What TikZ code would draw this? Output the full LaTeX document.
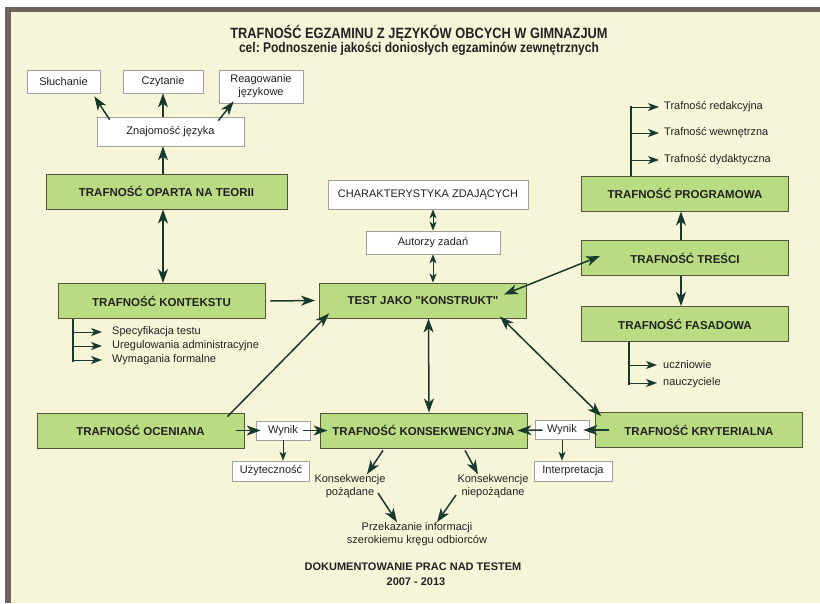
\documentclass[tikz,border=0pt]{standalone}
\usepackage{fontspec}
\setmainfont{Liberation Sans}
\newfontfamily\rawfont{Liberation Sans}
\newfontfamily\narrowfont[FakeStretch=0.86]{Liberation Sans}
\usetikzlibrary{arrows.meta}
\frenchspacing

\definecolor{paper}{HTML}{F7F5D8}
\definecolor{framebrown}{HTML}{6E625C}
\definecolor{boxgreen}{HTML}{B9DC82}
\definecolor{boxedge}{HTML}{55553F}
\definecolor{arrowdark}{HTML}{173A2C}
\definecolor{greyedge}{HTML}{A0A0A0}
\definecolor{inkdark}{HTML}{222222}

\tikzset{
  mainbox/.style={draw=boxedge, fill=boxgreen, line width=0.9pt, minimum width=207pt,
    minimum height=35pt, inner sep=0pt, text=inkdark, font=\bfseries\fontsize{11.5}{13}\selectfont},
  whitebox/.style={draw=greyedge, fill=white, line width=0.7pt, inner sep=0pt, align=center,
    text=inkdark, font=\fontsize{11}{13}\selectfont},
  freetext/.style={inner sep=0pt, align=center, text=inkdark, font=\fontsize{11}{13}\selectfont},
  bigarrow/.style={draw=arrowdark, line width=1.5pt, -{Stealth[length=14pt, width=10pt, inset=4pt]}},
  bothbig/.style={bigarrow, {Stealth[length=14pt, width=10pt, inset=4pt]}-{Stealth[length=14pt, width=10pt, inset=4pt]}},
  smallarrow/.style={draw=arrowdark, line width=1pt, -{Stealth[length=9pt, width=7pt, inset=2.5pt]}},
  bothsmall/.style={smallarrow, {Stealth[length=9pt, width=7pt, inset=2.5pt]}-{Stealth[length=9pt, width=7pt, inset=2.5pt]}},
  listbar/.style={draw=arrowdark, line width=2.6pt},
  listarrow/.style={draw=arrowdark, line width=1pt, -{Stealth[length=11pt, width=8pt, inset=3pt]}}
}

\begin{document}
\begin{tikzpicture}[x=1pt, y=-1pt]
    % Sheet and frame
    \fill[white] (0,0) rectangle (820,603);
    \fill[framebrown] (5,7) rectangle (820,603);
    \fill[paper] (11,12) rectangle (820,603);
    \useasboundingbox (0,0) rectangle (820,603);

    % Title
    \node[text=inkdark, font=\narrowfont\bfseries\fontsize{14.9}{16}\selectfont] (title) at (419,33) {TRAFNOŚĆ EGZAMINU Z JĘZYKÓW OBCYCH W GIMNAZJUM};
    \node[text=inkdark, font=\narrowfont\bfseries\fontsize{14}{16}\selectfont] (goal) at (419,48.5) {cel: Podnoszenie jakości doniosłych egzaminów zewnętrznych};

    % Theory branch
    \node[whitebox, minimum width=73pt, minimum height=23pt] (sluch) at (63.5,81.5) {Słuchanie};
    \node[whitebox, minimum width=80pt, minimum height=23pt] (czyt) at (163,81.5) {Czytanie};
    \node[whitebox, minimum width=84pt, minimum height=33pt] (reag) at (261,86.5) {Reagowanie\\językowe};
    \node[whitebox, minimum width=147pt, minimum height=29pt] (znaj) at (170.5,131.5) {Znajomość języka};
    \node[mainbox, minimum width=241pt] (teoria) at (166.5,191.5) {TRAFNOŚĆ OPARTA NA TEORII};
    \node[mainbox] (kontekst) at (161.5,301) {TRAFNOŚĆ KONTEKSTU};

    % Context list
    \coordinate (kbar) at (73,362);
    \node[freetext, anchor=west] (spec) at (112,332) {Specyfikacja testu};
    \node[freetext, anchor=west] (uregul) at (112,346) {Uregulowania administracyjne};
    \node[freetext, anchor=west] (wymag) at (112,360) {Wymagania formalne};

    % Centre
    \node[whitebox, minimum width=200pt, minimum height=29pt] (zdaj) at (428,194.5) {CHARAKTERYSTYKA ZDAJĄCYCH};
    \node[whitebox, minimum width=134pt, minimum height=23pt] (autorzy) at (433,242.5) {Autorzy zadań};
    \node[mainbox] (test) at (423,300.5) {\rawfont TEST JAKO "KONSTRUKT"};

    % Content branch
    \node[mainbox] (program) at (685,193.5) {TRAFNOŚĆ PROGRAMOWA};
    \node[mainbox] (tresc) at (685,258) {TRAFNOŚĆ TREŚCI};
    \node[mainbox] (fasad) at (685,324) {TRAFNOŚĆ FASADOWA};
    \coordinate (pbar) at (631,106);
    \node[freetext, anchor=west] (redak) at (664,107) {Trafność redakcyjna};
    \node[freetext, anchor=west] (wewn) at (664,133) {Trafność wewnętrzna};
    \node[freetext, anchor=west] (dydak) at (664,160) {Trafność dydaktyczna};
    \coordinate (fbar) at (629,385);
    \node[freetext, anchor=west] (uczn) at (663,365) {uczniowie};
    \node[freetext, anchor=west] (naucz) at (663,383) {nauczyciele};

    % Bottom row
    \node[mainbox] (ocen) at (140.5,430.5) {TRAFNOŚĆ OCENIANA};
    \node[mainbox] (konsek) at (423.5,430.5) {TRAFNOŚĆ KONSEKWENCYJNA};
    \node[mainbox] (kryt) at (699,430) {TRAFNOŚĆ KRYTERIALNA};
    \node[whitebox, minimum width=54pt, minimum height=19pt] (wynikL) at (283,430.5) {Wynik};
    \node[whitebox, minimum width=54pt, minimum height=19pt] (wynikR) at (562,430) {Wynik};
    \node[whitebox, minimum width=77pt, minimum height=20pt] (uzyt) at (271,471) {Użyteczność};
    \node[whitebox, minimum width=78pt, minimum height=20pt] (interp) at (573,471) {Interpretacja};
    \node[freetext] (pozad) at (350,486) {Konsekwencje\\pożądane};
    \node[freetext] (niepozad) at (493,486) {Konsekwencje\\niepożądane};
    \node[freetext] (przek) at (417,534) {Przekazanie informacji\\szerokiemu kręgu odbiorców};

    % Footer
    \node[text=inkdark, font=\bfseries\fontsize{11}{13}\selectfont] (dok) at (413,567) {DOKUMENTOWANIE PRAC NAD TESTEM};
    \node[text=inkdark, font=\bfseries\fontsize{11}{13}\selectfont] (lata) at (416,582) {2007 - 2013};

    % Arrows: theory branch
    \draw[bigarrow] ([xshift=13pt,yshift=-3pt]znaj.north west) -- ([xshift=-6pt,yshift=-3pt]sluch.south east);
    \draw[bigarrow] (znaj.north -| czyt) -- (czyt.south);
    \draw[bigarrow] ([xshift=-26pt,yshift=-4pt]znaj.north east) -- ([xshift=15pt,yshift=2pt]reag.south west);
    \draw[bigarrow] (teoria.north -| czyt) -- (znaj.south -| czyt);
    \draw[bothbig] (teoria.south -| czyt) -- (kontekst.north -| czyt);
    \draw[bigarrow] ([xshift=5pt]kontekst.east) -- ([xshift=-4pt]test.west);

    % Arrows: lists
    \draw[listbar] (kontekst.south -| kbar) -- (kbar);
    \foreach \item in {spec, uregul, wymag}
      \draw[listarrow] (\item.west -| kbar) -- ([xshift=-10pt]\item.west);
    \draw[listbar] (program.north -| pbar) -- (pbar);
    \foreach \item in {redak, wewn, dydak}
      \draw[listarrow] (\item.west -| pbar) -- ([xshift=-5pt]\item.west);
    \draw[listbar] (fasad.south -| fbar) -- (fbar);
    \foreach \item in {uczn, naucz}
      \draw[listarrow] (\item.west -| fbar) -- ([xshift=-6pt]\item.west);

    % Arrows: centre
    \draw[bothsmall] (zdaj.south -| autorzy) -- (autorzy.north);
    \draw[bothsmall] (autorzy.south) -- (test.north -| autorzy);
    \draw[bigarrow] ([xshift=-17pt,yshift=-4pt]ocen.north east) -- ([xshift=10pt,yshift=5pt]test.south west);
    \draw[bothbig] ([xshift=-23pt,yshift=-12pt]test.north east) -- ([xshift=19pt,yshift=2pt]tresc.west);
    \draw[bothbig] ([xshift=5.5pt]test.south) -- ([xshift=5.5pt]konsek.north);
    \draw[bothbig] ([xshift=-27pt,yshift=2pt]test.south east) -- ([xshift=6pt,yshift=-4pt]kryt.north west);
    \draw[bigarrow] ([xshift=-4pt]tresc.north) -- ([xshift=-4pt]program.south);
    \draw[bigarrow] ([xshift=-4pt]tresc.south) -- ([xshift=-4pt]fasad.north);

    % Arrows: bottom row
    \draw[bigarrow] ([xshift=-8pt]ocen.east) -- ([xshift=5pt]wynikL.west);
    \draw[bigarrow] ([xshift=-7pt]wynikL.east) -- ([xshift=8pt]konsek.west);
    \draw[bigarrow] ([xshift=14pt]kryt.west) -- ([xshift=-6pt]wynikR.east);
    \draw[bigarrow] ([xshift=8pt]wynikR.west) -- ([xshift=-10pt]konsek.east);
    \draw[smallarrow] (wynikL.south) -- (uzyt.north -| wynikL);
    \draw[smallarrow] (wynikR.south) -- (interp.north -| wynikR);
    \draw[bigarrow] ([xshift=-40.5pt,yshift=-2pt]konsek.south) -- ([xshift=17pt]pozad.north);
    \draw[bigarrow] ([xshift=41.5pt,yshift=-2pt]konsek.south) -- ([xshift=-15pt]niepozad.north);
    \draw[bigarrow] ([xshift=28pt,yshift=-7pt]pozad.center) -- ([xshift=-20pt]przek.north);
    \draw[bigarrow] ([xshift=-37pt,yshift=-9pt]niepozad.center) -- ([xshift=20pt]przek.north);
\end{tikzpicture}
\end{document}
